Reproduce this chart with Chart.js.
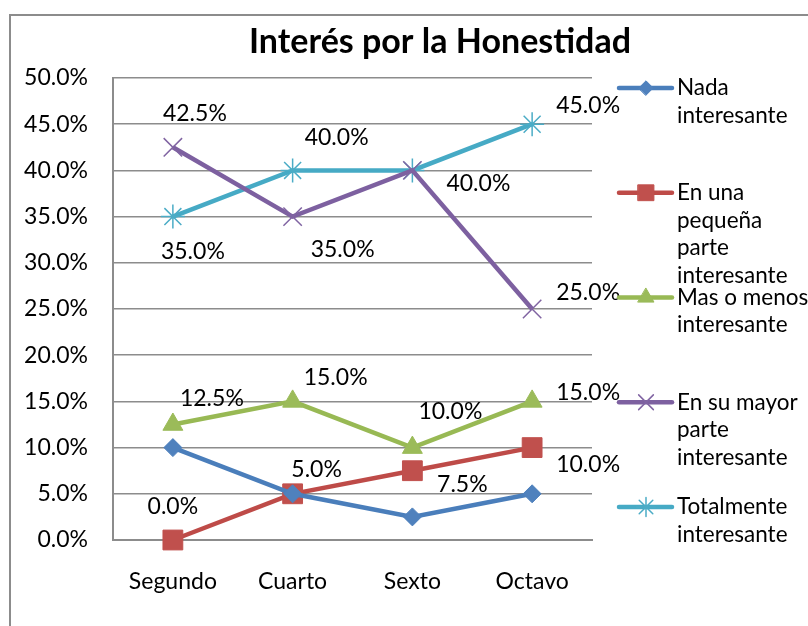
<!DOCTYPE html>
<html><head><meta charset="utf-8">
<script src="https://cdn.jsdelivr.net/npm/chart.js@4"></script>
<style>html,body{margin:0;background:#fff}</style>
</head><body>
<canvas id="c" width="808" height="626"></canvas>
<script>
// datos
const categories=["Segundo","Cuarto","Sexto","Octavo"];
const nada=[10,5,2.5,5];
const pequena=[0,5,7.5,10];
const masMenos=[12.5,15,10,15];
const mayor=[42.5,35,40,25];
const totalmente=[35,40,40,45];
const names=[["Nada","interesante"],["En una","pequeña","parte","interesante"],["Mas o menos","interesante"],["En su mayor","parte","interesante"],["Totalmente","interesante"]];

// desplazamiento de etiquetas (null = sin etiqueta)
const labelOff=[
  [null,null,null,null],
  [[0,-33],[24,-24],[50,14],[56,17]],
  [[39,-26],[43,-24],[38,-36],[56,-9]],
  [[22,-34],[50,33],[66,13],[56,-16]],
  [[20,35],[44,-33],null,[56,-19]]
];

const FONT="Lato";
const GRID="#8c8c8c";

function ds(label,data,line,mark,style,r,bw){
  return {label,data,borderColor:line,backgroundColor:mark,borderWidth:4.5,
    pointStyle:style,pointRadius:r,pointHoverRadius:r,pointBackgroundColor:mark,
    pointBorderColor:mark,pointBorderWidth:bw,tension:0,clip:false};
}

const bgPlugin={id:"bg",beforeDraw(ch){
  const c=ch.ctx;c.save();
  c.fillStyle="#fff";c.fillRect(0,0,ch.width,ch.height);
  c.strokeStyle=GRID;c.lineWidth=2;c.strokeRect(10,15,1000,1000);
  c.fillStyle="#000";c.font="bold 34px "+FONT;c.textAlign="center";c.textBaseline="middle";
  c.fillText("Interés por la Honestidad",440,42);
  c.restore();
}};

const labelPlugin={id:"lbl",afterDatasetsDraw(ch){
  const c=ch.ctx;c.save();
  c.font="23px "+FONT;c.fillStyle="#000";c.textAlign="center";c.textBaseline="middle";
  ch.data.datasets.forEach((d,i)=>{
    ch.getDatasetMeta(i).data.forEach((p,j)=>{
      const o=labelOff[i][j];if(!o)return;
      c.fillText(d.data[j].toFixed(1)+"%",p.x+o[0],p.y+o[1]);
    });
  });
  c.restore();
}};

const legendPlugin={id:"leg",afterDraw(ch){
  const c=ch.ctx;c.save();
  ch.data.datasets.forEach((d,i)=>{
    const y=88+i*104.75;
    c.strokeStyle=d.borderColor;c.lineWidth=d.borderWidth;c.lineCap="round";
    c.beginPath();c.moveTo(619,y);c.lineTo(672,y);c.stroke();
    c.fillStyle=d.pointBackgroundColor;c.strokeStyle=d.pointBorderColor;c.lineWidth=d.pointBorderWidth;
    Chart.helpers.drawPoint(c,{pointStyle:d.pointStyle,radius:d.pointRadius*0.8,borderWidth:d.pointBorderWidth,rotation:0},646,y);
    c.fillStyle="#000";c.font="22.5px "+FONT;c.textAlign="left";c.textBaseline="middle";
    names[i].forEach((t,k)=>c.fillText(t,677,y+k*27.5));
  });
  c.restore();
}};

new Chart(document.getElementById("c"),{
  type:"line",
  data:{labels:categories,datasets:[
    ds("Nada interesante",nada,"#4A7EBB","#4F81BD","rectRot",9,1),
    ds("En una pequeña parte interesante",pequena,"#BE4B48","#C0504D","rect",14,1),
    ds("Mas o menos interesante",masMenos,"#98B954","#9BBB59","triangle",11.5,1),
    ds("En su mayor parte interesante",mayor,"#7D60A0","#8064A2","crossRot",13,1.5),
    ds("Totalmente interesante",totalmente,"#46AAC5","#4BACC6","star",12,1.5)
  ]},
  options:{
    responsive:false,animation:false,devicePixelRatio:1,
    layout:{padding:{left:0,top:78,right:216,bottom:0}},
    plugins:{legend:{display:false},title:{display:false},tooltip:{enabled:false}},
    scales:{
      x:{offset:true,grid:{display:false,drawTicks:false},border:{color:GRID,width:2},
        ticks:{padding:28,color:"#000",font:{family:FONT,size:23}},
        afterFit(s){s.height=86;}},
      y:{min:0,max:50,grid:{color:GRID,lineWidth:1.5,drawTicks:false},border:{color:GRID,width:2},
        ticks:{stepSize:5,padding:25,color:"#000",font:{family:FONT,size:23},callback:v=>v.toFixed(1)+"%"},
        afterFit(s){s.width=113;}}
    }
  },
  plugins:[bgPlugin,labelPlugin,legendPlugin]
});
</script>
</body></html>
